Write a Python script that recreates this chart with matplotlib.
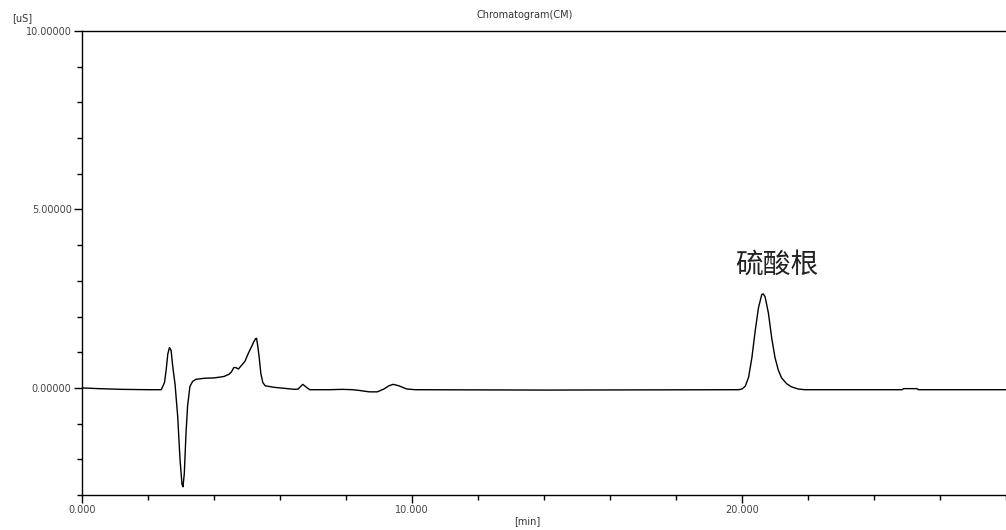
import matplotlib
matplotlib.use('Agg')
import matplotlib.pyplot as plt
from matplotlib.ticker import MultipleLocator, FormatStrFormatter

# retention time [min] and conductivity [uS]
time = [0.0, 0.5, 1.2, 2.0, 2.4, 2.5, 2.55, 2.6, 2.65, 2.7, 2.75, 2.82, 2.9, 2.97,
        3.03, 3.06, 3.1, 3.15, 3.2, 3.27, 3.35, 3.45, 3.7, 4.0, 4.3, 4.45, 4.53,
        4.6, 4.66, 4.74, 4.85, 4.94, 5.04, 5.14, 5.21, 5.26, 5.29, 5.33, 5.37,
        5.42, 5.48, 5.55, 5.8, 6.0, 6.45, 6.55, 6.69, 6.8, 6.9, 7.5, 7.9, 8.2,
        8.4, 8.7, 8.95, 9.15, 9.3, 9.43, 9.6, 9.84, 10.1, 14.0, 19.9, 20.0, 20.1,
        20.2, 20.3, 20.4, 20.5, 20.6, 20.65, 20.7, 20.8, 20.9, 21.0, 21.1, 21.2,
        21.35, 21.5, 21.7, 21.9, 24.85, 24.9, 25.3, 25.35, 28.0]
signal = [0.0, -0.02, -0.04, -0.05, -0.05, 0.15, 0.5, 0.95, 1.13, 1.05, 0.6, 0.1,
          -0.8, -2.0, -2.7, -2.77, -2.4, -1.3, -0.5, 0.04, 0.18, 0.24, 0.27, 0.28,
          0.32, 0.38, 0.45, 0.57, 0.57, 0.53, 0.65, 0.75, 0.97, 1.16, 1.30, 1.38,
          1.39, 1.15, 0.85, 0.4, 0.15, 0.06, 0.02, 0.0, -0.04, -0.03, 0.10, 0.02,
          -0.05, -0.05, -0.04, -0.05, -0.07, -0.11, -0.11, -0.03, 0.06, 0.10, 0.06,
          -0.03, -0.05, -0.06, -0.05, -0.03, 0.05, 0.3, 0.85, 1.6, 2.25, 2.62,
          2.63, 2.55, 2.1, 1.4, 0.85, 0.5, 0.28, 0.12, 0.03, -0.03, -0.05, -0.05,
          -0.02, -0.02, -0.05, -0.05]

peak_name = '硫酸根'
peak_pos = (21.05, 3.45)

fig = plt.figure(figsize=(10.06, 5.30), dpi=100)
ax = fig.add_axes([82 / 1006, 35 / 530, 924 / 1006, 464 / 530])

ax.plot(time, signal, color='black', lw=1.0)

ax.set_xlim(0, 28)
ax.set_ylim(-3, 10)

ax.xaxis.set_major_locator(MultipleLocator(10))
ax.xaxis.set_minor_locator(MultipleLocator(2))
ax.yaxis.set_major_locator(MultipleLocator(5))
ax.yaxis.set_minor_locator(MultipleLocator(1))
ax.xaxis.set_major_formatter(FormatStrFormatter('%.3f'))
ax.yaxis.set_major_formatter(FormatStrFormatter('%.5f'))

ax.tick_params(which='major', length=6, width=1, labelsize=7, labelcolor='#444444', pad=1.5)
ax.tick_params(which='minor', length=3.5, width=1)
ax.spines['right'].set_visible(False)
for s in ['left', 'bottom', 'top']:
    ax.spines[s].set_linewidth(1.0)

fig.text(525 / 1006, 1 - 15 / 530, 'Chromatogram(CM)', fontsize=7, color='#333333',
         ha='center', va='center')
fig.text(12 / 1006, 1 - 18 / 530, '[uS]', fontsize=7, color='#333333',
         ha='left', va='center')
fig.text(527 / 1006, 1 - 521 / 530, '[min]', fontsize=7, color='#333333',
         ha='center', va='center')

ax.text(peak_pos[0], peak_pos[1], peak_name, fontsize=20, color='#222222',
        fontweight='light', family=['Noto Sans CJK SC', 'DejaVu Sans'],
        ha='center', va='center')

fig.savefig('out.png', dpi=100)
